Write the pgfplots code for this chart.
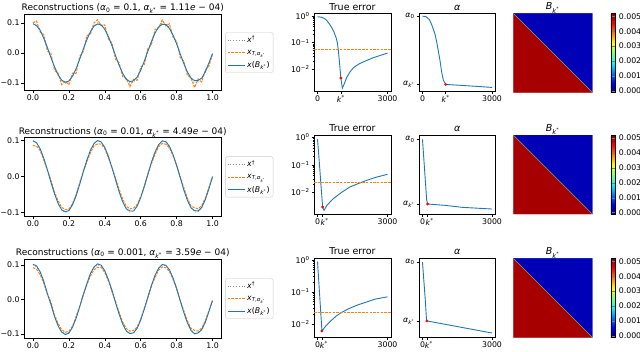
\documentclass[border=0pt]{standalone}
\usepackage{fontspec}
\setmainfont{DejaVu Sans}
\usepackage{pgfplots}
\usepackage{pgfplotstable}
\pgfplotsset{compat=1.18}

\definecolor{mblue}{HTML}{1F77B4}
\definecolor{morange}{HTML}{FF7F0E}
\definecolor{mgray}{HTML}{8C8C8C}
\definecolor{diagc}{RGB}{170,165,60}

\newcommand{\al}{\textit{α}}
\newcommand{\ks}{\textit{k}\textsuperscript{*}}

% t, x_true, then blue / orange for the three rows
\pgfplotstableread{
t     xt      b1      o1      b2      o2      b3      o3
0.00  0.1000  0.097   0.1000  0.099   0.086   0.102   0.092
0.02  0.0941  0.090   0.1061  0.094   0.085   0.097   0.087
0.04  0.0771  0.075   0.0691  0.077   0.072   0.080   0.072
0.06  0.0509  0.049   0.0609  0.051   0.046   0.053   0.047
0.08  0.0187  0.018   0.0067  0.019   0.018   0.017   0.015
0.10 -0.0156 -0.015  -0.0006 -0.016  -0.010  -0.014  -0.008
0.12 -0.0482 -0.046  -0.0582 -0.048  -0.044  -0.050  -0.045
0.14 -0.0750 -0.072  -0.0670 -0.075  -0.068  -0.077  -0.070
0.16 -0.0930 -0.090  -0.1050 -0.093  -0.086  -0.095  -0.088
0.18 -0.0999 -0.097  -0.0939 -0.098  -0.092  -0.102  -0.095
0.20 -0.0951 -0.093  -0.1051 -0.095  -0.091  -0.098  -0.093
0.22 -0.0790 -0.077  -0.0670 -0.079  -0.076  -0.081  -0.078
0.24 -0.0536 -0.052  -0.0676 -0.054  -0.051  -0.055  -0.050
0.26 -0.0218 -0.021  -0.0118 -0.022  -0.018  -0.022  -0.020
0.28  0.0125  0.012   0.0045  0.013   0.014   0.014   0.012
0.30  0.0454  0.044   0.0574  0.045   0.040   0.045   0.042
0.32  0.0729  0.070   0.0629  0.073   0.066   0.075   0.068
0.34  0.0918  0.089   0.0998  0.092   0.085   0.094   0.086
0.36  0.0998  0.096   0.1098  0.100   0.091   0.103   0.093
0.38  0.0960  0.093   0.0900  0.096   0.090   0.099   0.093
0.40  0.0809  0.078   0.0929  0.081   0.077   0.083   0.078
0.42  0.0562  0.054   0.0462  0.056   0.052   0.057   0.053
0.44  0.0249  0.024   0.0329  0.025   0.024   0.027   0.022
0.46 -0.0094 -0.009  -0.0214 -0.009  -0.005  -0.010  -0.006
0.48 -0.0426 -0.041  -0.0326 -0.043  -0.036  -0.043  -0.038
0.50 -0.0707 -0.068  -0.0787 -0.071  -0.063  -0.072  -0.066
0.52 -0.0905 -0.087  -0.0845 -0.090  -0.083  -0.092  -0.085
0.54 -0.0996 -0.095  -0.1116 -0.096  -0.090  -0.099  -0.092
0.56 -0.0969 -0.092  -0.0869 -0.096  -0.088  -0.097  -0.090
0.58 -0.0827 -0.080  -0.0907 -0.083  -0.078  -0.084  -0.080
0.60 -0.0588 -0.057  -0.0468 -0.059  -0.056  -0.060  -0.057
0.62 -0.0279 -0.027  -0.0379 -0.028  -0.026  -0.028  -0.025
0.64  0.0063  0.006   0.0143  0.006   0.007   0.007   0.004
0.66  0.0397  0.038   0.0277  0.040   0.036   0.041   0.038
0.68  0.0685  0.066   0.0785  0.068   0.062   0.070   0.064
0.70  0.0891  0.086   0.0831  0.089   0.083   0.091   0.085
0.72  0.0992  0.095   0.1092  0.099   0.092   0.101   0.094
0.74  0.0976  0.094   0.0896  0.097   0.090   0.099   0.092
0.76  0.0844  0.081   0.0964  0.084   0.080   0.086   0.081
0.78  0.0613  0.059   0.0513  0.061   0.058   0.062   0.058
0.80  0.0309  0.030   0.0389  0.031   0.031   0.032   0.030
0.82 -0.0031 -0.003  -0.0151 -0.003   0.000  -0.004  -0.002
0.84 -0.0368 -0.035  -0.0268 -0.037  -0.031  -0.038  -0.033
0.86 -0.0661 -0.063  -0.0741 -0.066  -0.060  -0.068  -0.062
0.88 -0.0876 -0.083  -0.0816 -0.087  -0.082  -0.090  -0.084
0.90 -0.0988 -0.092  -0.1148 -0.095  -0.087  -0.100  -0.090
0.92 -0.0982 -0.091  -0.0862 -0.096  -0.090  -0.097  -0.092
0.94 -0.0861 -0.083  -0.0961 -0.086  -0.080  -0.088  -0.083
0.96 -0.0637 -0.062  -0.0557 -0.064  -0.060  -0.066  -0.062
0.98 -0.0339 -0.033  -0.0439 -0.034  -0.030  -0.035  -0.032
1.00  0.0000 -0.002  -0.0040  0.000  -0.002  -0.004  -0.003
}\recdata

\pgfplotsset{
  rsbase/.style={
    scale only axis,
    axis line style={line width=0.6pt},
    tick align=outside, tick pos=left,
    major tick length=2.5pt, minor tick length=1.5pt,
    tick style={black, line width=0.5pt},
    tick label style={font=\fontsize{7.8}{9}\selectfont, inner sep=1.8pt},
    /pgf/number format/assume math mode=true,
    every axis title/.style={at={(0.5,1)}, anchor=base, yshift=3.5pt,
      font=\fontsize{9.5}{11}\selectfont},
  },
  rsrecon/.style={
    rsbase, width=197.5pt, xmin=-0.05, xmax=1.05,
    title style={font=\fontsize{9}{11}\selectfont},
    xtick={0,0.2,0.4,0.6,0.8,1}, xticklabels={0.0,0.2,0.4,0.6,0.8,1.0},
    ytick={-0.1,0,0.1}, yticklabels={−0.1,0.0,0.1},
    legend style={at={(1.02,0.5)}, anchor=west, draw=black!20,
      rounded corners=1.5pt, font=\fontsize{7.8}{9}\selectfont,
      inner sep=1.5pt, row sep=2pt},
    legend cell align=left,
  },
  rserr/.style={
    rsbase, width=77pt, xmin=-150, xmax=3150,
    ytick={0.01,0.1,1},
    yticklabels={10\textsuperscript{−2},10\textsuperscript{−1},10\textsuperscript{0}},
    title={True error},
  },
  rsal/.style={
    rsbase, width=76.5pt, xmin=-150, xmax=3150,
    title={\al},
  },
  rsheat/.style={
    scale only axis, width=79pt, height=79pt,
    xmin=0, xmax=1, ymin=0, ymax=1, hide axis,
    every axis title/.style={at={(0.5,1)}, anchor=base, yshift=3.5pt,
      font=\fontsize{9.5}{11}\selectfont},
    title={\textit{B}\textsubscript{\ks}},
    colormap/jet, point meta min=-0.0001, point meta max=0.0052,
    colorbar right,
    colorbar style={
      at={(parent axis.north east)}, anchor=north west, xshift=10pt,
      width=4.5pt, scale only axis, scaled y ticks=false,
      ytick={0,0.001,0.002,0.003,0.004,0.005},
      yticklabels={0.000,0.001,0.002,0.003,0.004,0.005},
      tick label style={font=\fontsize{7.8}{9}\selectfont},
      major tick length=2pt, axis line style={line width=0.4pt},
    },
  },
  xtl/.style={line width=0.8pt, color=mgray, dotted},
  otl/.style={line width=1pt, color=morange, dash pattern=on 2.5pt off 1.2pt},
  btl/.style={line width=0.9pt, color=mblue},
  redpt/.style={only marks, mark=*, mark size=1.2pt, color=red},
}

\begin{document}
\begin{tikzpicture}
\useasboundingbox (0pt,0pt) rectangle (640pt,-351pt);

% ---------------- row 1 ----------------
\begin{axis}[rsrecon, at={(24pt,-90.7pt)}, anchor=south west, height=76.4pt,
  ymin=-0.125, ymax=0.128,
  title={Reconstructions (\al\textsubscript{0} = 0.1, \al\textsubscript{\ks} = 1.11\textit{e} − 04)}]
\addplot[xtl] table[x=t, y=xt] {\recdata};
\addplot[otl] table[x=t, y=o1] {\recdata};
\addplot[btl] table[x=t, y=b1] {\recdata};
\legend{\textit{x}\textsuperscript{†}, \textit{x}\textsubscript{\textit{T},\al\textsubscript{\ks}}, \textit{x}(\textit{B}\textsubscript{\ks})}
\end{axis}

\begin{axis}[rserr, ymode=log, at={(314pt,-91pt)}, anchor=south west, height=77.5pt,
  ymin=1.48e-3, ymax=1.26,
  xtick={0,1000,3000}, xticklabels={0,\ks,3000}]
\addplot[btl] coordinates {(0,0.95) (150,0.92) (300,0.82) (400,0.68) (500,0.52)
  (600,0.38) (700,0.26) (800,0.15) (850,0.1) (900,0.045) (950,0.015) (1000,0.0046)
  (1065,0.0019) (1150,0.0028) (1250,0.0048) (1400,0.008) (1550,0.0115) (1800,0.016)
  (2100,0.021) (2400,0.027) (2700,0.033) (3000,0.04)};
\addplot[otl] coordinates {(-150,0.053) (3150,0.053)};
\addplot[redpt] coordinates {(1000,0.0046)};
\end{axis}

\begin{axis}[rsal, ymode=log, at={(419pt,-91pt)}, anchor=south west, height=77.5pt,
  ymin=5.75e-5, ymax=0.13,
  xtick={0,1000,3000}, xticklabels={0,\ks,3000},
  ytick={1.11e-4,0.1}, yticklabels={\al\textsubscript{\ks},\al\textsubscript{0}}]
\addplot[btl] coordinates {(0,0.1) (150,0.095) (300,0.07) (400,0.042) (535,0.0174)
  (600,0.009) (678,0.0033) (750,0.0013) (826,3.9e-4) (900,1.7e-4) (1000,1.11e-4)
  (1500,1.03e-4) (2000,9.6e-5) (2500,8.9e-5) (3000,8.2e-5)};
\addplot[redpt] coordinates {(1000,1.11e-4)};
\end{axis}

\begin{axis}[rsheat, at={(513.3pt,-92.3pt)}, anchor=south west]
\addplot[patch, shader=flat, point meta=explicit] coordinates {(0,1) [0.0050] (0,0) [0.0050] (1,0) [0.0050]};
\addplot[patch, shader=flat, point meta=explicit] coordinates {(0,1) [0.00018] (1,1) [0.00018] (1,0) [0.00018]};
\addplot[diagc, line width=0.6pt] coordinates {(0,1) (1,0)};
\end{axis}

% ---------------- row 2 ----------------
\begin{axis}[rsrecon, at={(24pt,-216pt)}, anchor=south west, height=78.3pt,
  ymin=-0.110, ymax=0.108,
  title={Reconstructions (\al\textsubscript{0} = 0.01, \al\textsubscript{\ks} = 4.49\textit{e} − 04)}]
\addplot[xtl] table[x=t, y=xt] {\recdata};
\addplot[otl] table[x=t, y=o2] {\recdata};
\addplot[btl] table[x=t, y=b2] {\recdata};
\legend{\textit{x}\textsuperscript{†}, \textit{x}\textsubscript{\textit{T},\al\textsubscript{\ks}}, \textit{x}(\textit{B}\textsubscript{\ks})}
\end{axis}

\begin{axis}[rserr, ymode=log, at={(314pt,-214pt)}, anchor=south west, height=79pt,
  ymin=1.62e-3, ymax=1.21,
  xtick={0,220,3000}, xticklabels={0,\hspace{4pt}\ks,3000}]
\addplot[btl] coordinates {(0,0.85) (70,0.15) (145,0.02) (220,0.0029) (280,0.0022)
  (400,0.0033) (650,0.0056) (1000,0.0095) (1380,0.0155) (1700,0.02) (2100,0.027)
  (2500,0.035) (3000,0.045)};
\addplot[otl] coordinates {(-150,0.0235) (3150,0.0235)};
\addplot[redpt] coordinates {(220,0.0029)};
\end{axis}

\begin{axis}[rsal, ymode=log, at={(419pt,-214pt)}, anchor=south west, height=79pt,
  ymin=2.78e-4, ymax=0.0123,
  xtick={0,220,3000}, xticklabels={0,\hspace{4pt}\ks,3000},
  ytick={4.49e-4,0.01}, yticklabels={\al\textsubscript{\ks},\al\textsubscript{0}}]
\addplot[btl] coordinates {(0,0.01) (100,0.002) (180,5.5e-4) (220,4.49e-4)
  (1000,4.2e-4) (1713,3.83e-4) (3000,3.53e-4)};
\addplot[redpt] coordinates {(220,4.49e-4)};
\end{axis}

\begin{axis}[rsheat, at={(513.3pt,-214pt)}, anchor=south west]
\addplot[patch, shader=flat, point meta=explicit] coordinates {(0,1) [0.0050] (0,0) [0.0050] (1,0) [0.0050]};
\addplot[patch, shader=flat, point meta=explicit] coordinates {(0,1) [0.00018] (1,1) [0.00018] (1,0) [0.00018]};
\addplot[diagc, line width=0.6pt] coordinates {(0,1) (1,0)};
\end{axis}

% ---------------- row 3 ----------------
\begin{axis}[rsrecon, at={(24pt,-338pt)}, anchor=south west, height=79pt,
  ymin=-0.112, ymax=0.117,
  title={Reconstructions (\al\textsubscript{0} = 0.001, \al\textsubscript{\ks} = 3.59\textit{e} − 04)}]
\addplot[xtl] table[x=t, y=xt] {\recdata};
\addplot[otl] table[x=t, y=o3] {\recdata};
\addplot[btl] table[x=t, y=b3] {\recdata};
\legend{\textit{x}\textsuperscript{†}, \textit{x}\textsubscript{\textit{T},\al\textsubscript{\ks}}, \textit{x}(\textit{B}\textsubscript{\ks})}
\end{axis}

\begin{axis}[rserr, ymode=log, at={(314pt,-337.3pt)}, anchor=south west, height=79pt,
  ymin=3.8e-3, ymax=1.12,
  xtick={0,190,3000}, xticklabels={0,\hspace{4pt}\ks,3000}]
\addplot[btl] coordinates {(0,0.89) (190,0.006) (350,0.0085) (540,0.0118) (800,0.0175)
  (1000,0.022) (1300,0.029) (1720,0.039) (2100,0.048) (2450,0.059) (3000,0.07)};
\addplot[otl] coordinates {(-150,0.022) (3150,0.022)};
\addplot[redpt] coordinates {(190,0.006)};
\end{axis}

\begin{axis}[rsal, ymode=log, at={(419pt,-337.3pt)}, anchor=south west, height=79pt,
  ymin=2.7e-4, ymax=1.067e-3,
  xtick={0,190,3000}, xticklabels={0,\hspace{4pt}\ks,3000},
  ytick={3.59e-4,0.001}, yticklabels={\al\textsubscript{\ks},\al\textsubscript{0}}]
\addplot[btl] coordinates {(0,0.001) (120,5.2e-4) (170,3.75e-4) (190,3.59e-4) (3000,2.91e-4)};
\addplot[redpt] coordinates {(190,3.59e-4)};
\end{axis}

\begin{axis}[rsheat, at={(513.3pt,-337.3pt)}, anchor=south west]
\addplot[patch, shader=flat, point meta=explicit] coordinates {(0,1) [0.0050] (0,0) [0.0050] (1,0) [0.0050]};
\addplot[patch, shader=flat, point meta=explicit] coordinates {(0,1) [0.00018] (1,1) [0.00018] (1,0) [0.00018]};
\addplot[diagc, line width=0.6pt] coordinates {(0,1) (1,0)};
\end{axis}
\end{tikzpicture}
\end{document}
